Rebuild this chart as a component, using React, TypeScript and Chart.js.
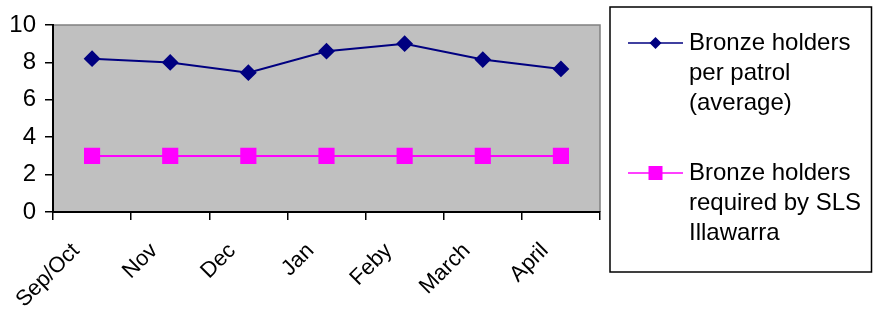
import React, { useEffect, useRef } from "react";
import { Chart, registerables } from "chart.js";

Chart.register(...registerables);

const categories = ["Sep/Oct", "Nov", "Dec", "Jan", "Feby", "March", "April"];
const perPatrol = [8.2, 8.0, 7.45, 8.6, 9.0, 8.15, 7.65];
const required = [3, 3, 3, 3, 3, 3, 3];
const legendLines = [
  ["Bronze holders", "per patrol", "(average)"],
  ["Bronze holders", "required by SLS", "Illawarra"],
];
const yTicks = [0, 2, 4, 6, 8, 10];

const FONT = "'Liberation Sans', Arial, sans-serif";

const plotBg = {
  id: "plotBg",
  beforeDraw(chart: any) {
    const { ctx, chartArea: a } = chart;
    ctx.save();
    ctx.fillStyle = "#C0C0C0";
    ctx.fillRect(a.left, a.top, a.right - a.left, a.bottom - a.top);
    ctx.strokeStyle = "#808080";
    ctx.lineWidth = 1.5;
    ctx.beginPath();
    ctx.moveTo(a.left, a.top);
    ctx.lineTo(a.right, a.top);
    ctx.lineTo(a.right, a.bottom);
    ctx.stroke();
    ctx.restore();
  },
};

const boxLegend = {
  id: "boxLegend",
  afterDraw(chart: any) {
    const { ctx, chartArea: a, width } = chart;
    const left = a.right + 10;
    const top = 7;
    const right = width - 1.5;
    const bottom = 272;
    ctx.save();
    ctx.strokeStyle = "#000";
    ctx.lineWidth = 1.5;
    ctx.strokeRect(left, top, right - left, bottom - top);
    const itemTops = [43, 173];
    chart.data.datasets.forEach((ds: any, i: number) => {
      const cy = itemTops[i];
      const x0 = left + 18;
      const x1 = left + 73;
      ctx.strokeStyle = ds.borderColor;
      ctx.lineWidth = 1.5;
      ctx.beginPath();
      ctx.moveTo(x0, cy);
      ctx.lineTo(x1, cy);
      ctx.stroke();
      ctx.fillStyle = ds.pointBackgroundColor;
      const mx = (x0 + x1) / 2;
      ctx.beginPath();
      if (ds.pointStyle === "rectRot") {
        const r = 6;
        ctx.moveTo(mx - r, cy);
        ctx.lineTo(mx, cy - r);
        ctx.lineTo(mx + r, cy);
        ctx.lineTo(mx, cy + r);
        ctx.closePath();
      } else {
        ctx.rect(mx - 7, cy - 7, 14, 14);
      }
      ctx.fill();
      ctx.fillStyle = "#000";
      ctx.font = `24px ${FONT}`;
      ctx.textBaseline = "middle";
      ctx.textAlign = "left";
      legendLines[i].forEach((line, j) => {
        ctx.fillText(line, left + 79, cy + j * 30);
      });
    });
    ctx.restore();
  },
};

export default function App() {
  const ref = useRef<HTMLCanvasElement | null>(null);
  useEffect(() => {
    document.body.style.margin = "0";
    const chart = new Chart(ref.current!, {
      type: "line",
      data: {
        labels: categories,
        datasets: [
          {
            label: legendLines[0].join(" "),
            data: perPatrol,
            borderColor: "#000080",
            backgroundColor: "#000080",
            pointBackgroundColor: "#000080",
            pointBorderColor: "#000080",
            pointStyle: "rectRot",
            pointRadius: 7,
            borderWidth: 2,
            tension: 0,
          },
          {
            label: legendLines[1].join(" "),
            data: required,
            borderColor: "#FF00FF",
            backgroundColor: "#FF00FF",
            pointBackgroundColor: "#FF00FF",
            pointBorderColor: "#FF00FF",
            pointStyle: "rect",
            pointRadius: 10,
            borderWidth: 2,
            tension: 0,
          },
        ],
      },
      options: {
        animation: false,
        responsive: false,
        maintainAspectRatio: false,
        layout: { padding: { top: 25, right: 273, left: 0, bottom: 0 } },
        plugins: {
          legend: { display: false },
          tooltip: { enabled: false },
        },
        scales: {
          x: {
            offset: true,
            grid: {
              offset: true,
              drawOnChartArea: false,
              drawTicks: true,
              tickLength: 8,
              color: "#000",
              lineWidth: 1.5,
            },
            border: { display: true, color: "#000", width: 2 },
            ticks: {
              color: "#000",
              font: { family: FONT, size: 22 },
              maxRotation: 45,
              minRotation: 45,
              autoSkip: false,
              padding: 18,
              labelOffset: -16,
            },
            afterFit(scale: any) {
              scale.height = 97;
            },
          },
          y: {
            min: 0,
            max: 10,
            afterBuildTicks(scale: any) {
              scale.ticks = yTicks.map((v) => ({ value: v }));
            },
            grid: {
              drawOnChartArea: false,
              drawTicks: true,
              tickLength: 8,
              color: "#000",
              lineWidth: 1.5,
            },
            border: { display: true, color: "#000", width: 2 },
            ticks: {
              color: "#000",
              font: { family: FONT, size: 24 },
              padding: 9,
            },
            afterFit(scale: any) {
              scale.width = 53;
            },
          },
        },
      },
      plugins: [plotBg, boxLegend],
    });
    return () => chart.destroy();
  }, []);
  return <canvas ref={ref} width={873} height={309} style={{ display: "block" }} />;
}
